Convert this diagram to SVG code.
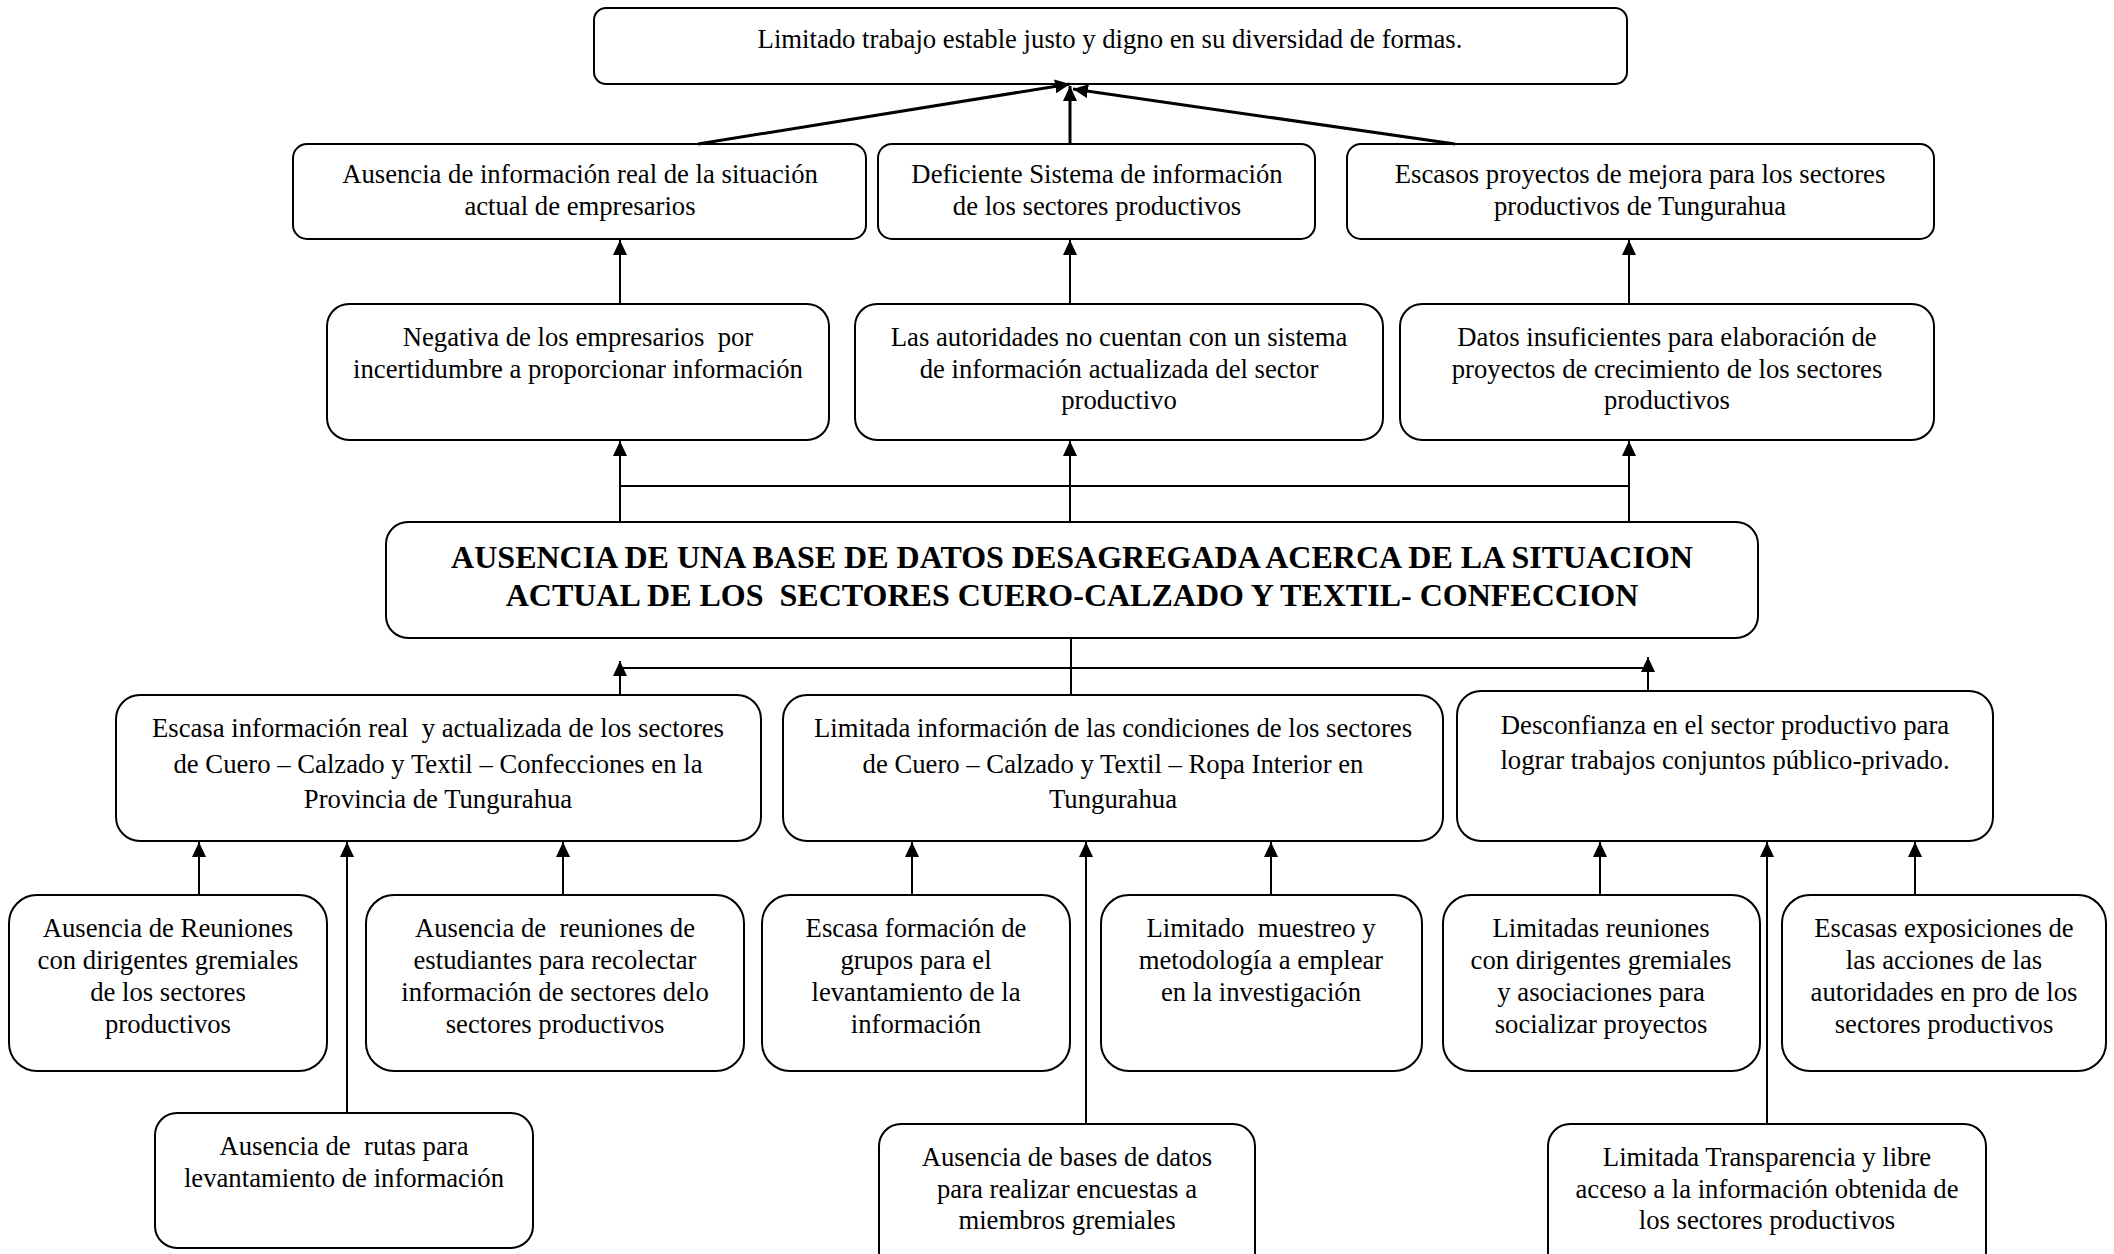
<svg xmlns="http://www.w3.org/2000/svg" width="2114" height="1254" viewBox="0 0 2114 1254">
<defs>
<style>
.box{fill:#fff;stroke:#000;stroke-width:2}
.t{font-family:"Liberation Serif","Times New Roman",serif;font-size:26.7px;fill:#000;text-anchor:middle;white-space:pre}
.b{font-family:"Liberation Serif","Times New Roman",serif;font-size:32px;font-weight:bold;fill:#000;text-anchor:middle;white-space:pre}
.ln{stroke:#000;stroke-width:2;fill:none}
.ar{stroke:#000;stroke-width:2;fill:none;marker-end:url(#ah)}
.ard{stroke:#000;stroke-width:3;fill:none;marker-end:url(#ah)}
</style>
<marker id="ah" viewBox="0 0 15 14" refX="15" refY="7" markerWidth="15" markerHeight="14" markerUnits="userSpaceOnUse" orient="auto">
<path d="M0,0 L15,7 L0,14 z" fill="#000"/>
</marker>
</defs>
<rect width="2114" height="1254" fill="#fff"/>

<g id="n-top"><rect class="box" x="594" y="8" width="1033" height="76" rx="12"/>
<text class="t" x="1110" y="48">Limitado trabajo estable justo y digno en su diversidad de formas.</text></g>

<g id="n-e1"><rect class="box" x="293" y="144" width="573" height="95" rx="14"/>
<text class="t" x="580" y="183">Ausencia de información real de la situación</text>
<text class="t" x="580" y="215">actual de empresarios</text></g>

<g id="n-e2"><rect class="box" x="878" y="144" width="437" height="95" rx="14"/>
<text class="t" x="1097" y="183">Deficiente Sistema de información</text>
<text class="t" x="1097" y="215">de los sectores productivos</text></g>

<g id="n-e3"><rect class="box" x="1347" y="144" width="587" height="95" rx="14"/>
<text class="t" x="1640" y="183">Escasos proyectos de mejora para los sectores</text>
<text class="t" x="1640" y="215">productivos de Tungurahua</text></g>

<g id="n-d1"><rect class="box" x="327" y="304" width="502" height="136" rx="22"/>
<text class="t" x="578" y="346">Negativa de los empresarios  por</text>
<text class="t" x="578" y="378">incertidumbre a proporcionar información</text></g>

<g id="n-d2"><rect class="box" x="855" y="304" width="528" height="136" rx="22"/>
<text class="t" x="1119" y="346">Las autoridades no cuentan con un sistema</text>
<text class="t" x="1119" y="378">de información actualizada del sector</text>
<text class="t" x="1119" y="409">productivo</text></g>

<g id="n-d3"><rect class="box" x="1400" y="304" width="534" height="136" rx="22"/>
<text class="t" x="1667" y="346">Datos insuficientes para elaboración de</text>
<text class="t" x="1667" y="378">proyectos de crecimiento de los sectores</text>
<text class="t" x="1667" y="409">productivos</text></g>

<g id="n-central"><rect class="box" x="386" y="522" width="1372" height="116" rx="22"/>
<text class="b" x="1072" y="568">AUSENCIA DE UNA BASE DE DATOS DESAGREGADA ACERCA DE LA SITUACION</text>
<text class="b" x="1072" y="606">ACTUAL DE LOS  SECTORES CUERO-CALZADO Y TEXTIL- CONFECCION</text></g>

<g id="n-c1"><rect class="box" x="116" y="695" width="645" height="146" rx="24"/>
<text class="t" x="438" y="737">Escasa información real  y actualizada de los sectores</text>
<text class="t" x="438" y="773">de Cuero – Calzado y Textil – Confecciones en la</text>
<text class="t" x="438" y="808">Provincia de Tungurahua</text></g>

<g id="n-c2"><rect class="box" x="783" y="695" width="660" height="146" rx="24"/>
<text class="t" x="1113" y="737">Limitada información de las condiciones de los sectores</text>
<text class="t" x="1113" y="773">de Cuero – Calzado y Textil – Ropa Interior en</text>
<text class="t" x="1113" y="808">Tungurahua</text></g>

<g id="n-c3"><rect class="box" x="1457" y="691" width="536" height="150" rx="24"/>
<text class="t" x="1725" y="734">Desconfianza en el sector productivo para</text>
<text class="t" x="1725" y="769">lograr trabajos conjuntos público-privado.</text></g>

<g id="n-s1"><rect class="box" x="9" y="895" width="318" height="176" rx="28"/>
<text class="t" x="168" y="937">Ausencia de Reuniones</text>
<text class="t" x="168" y="969">con dirigentes gremiales</text>
<text class="t" x="168" y="1001">de los sectores</text>
<text class="t" x="168" y="1033">productivos</text></g>

<g id="n-s2"><rect class="box" x="366" y="895" width="378" height="176" rx="28"/>
<text class="t" x="555" y="937">Ausencia de  reuniones de</text>
<text class="t" x="555" y="969">estudiantes para recolectar</text>
<text class="t" x="555" y="1001">información de sectores delo</text>
<text class="t" x="555" y="1033">sectores productivos</text></g>

<g id="n-s3"><rect class="box" x="762" y="895" width="308" height="176" rx="28"/>
<text class="t" x="916" y="937">Escasa formación de</text>
<text class="t" x="916" y="969">grupos para el</text>
<text class="t" x="916" y="1001">levantamiento de la</text>
<text class="t" x="916" y="1033">información</text></g>

<g id="n-s4"><rect class="box" x="1101" y="895" width="321" height="176" rx="28"/>
<text class="t" x="1261" y="937">Limitado  muestreo y</text>
<text class="t" x="1261" y="969">metodología a emplear</text>
<text class="t" x="1261" y="1001">en la investigación</text></g>

<g id="n-s5"><rect class="box" x="1443" y="895" width="317" height="176" rx="28"/>
<text class="t" x="1601" y="937">Limitadas reuniones</text>
<text class="t" x="1601" y="969">con dirigentes gremiales</text>
<text class="t" x="1601" y="1001">y asociaciones para</text>
<text class="t" x="1601" y="1033">socializar proyectos</text></g>

<g id="n-s6"><rect class="box" x="1782" y="895" width="324" height="176" rx="28"/>
<text class="t" x="1944" y="937">Escasas exposiciones de</text>
<text class="t" x="1944" y="969">las acciones de las</text>
<text class="t" x="1944" y="1001">autoridades en pro de los</text>
<text class="t" x="1944" y="1033">sectores productivos</text></g>

<g id="n-r1"><rect class="box" x="155" y="1113" width="378" height="135" rx="22"/>
<text class="t" x="344" y="1155">Ausencia de  rutas para</text>
<text class="t" x="344" y="1187">levantamiento de información</text></g>

<g id="n-r2"><rect class="box" x="879" y="1124" width="376" height="150" rx="22"/>
<text class="t" x="1067" y="1166">Ausencia de bases de datos</text>
<text class="t" x="1067" y="1198">para realizar encuestas a</text>
<text class="t" x="1067" y="1229">miembros gremiales</text></g>

<g id="n-r3"><rect class="box" x="1548" y="1124" width="438" height="150" rx="22"/>
<text class="t" x="1767" y="1166">Limitada Transparencia y libre</text>
<text class="t" x="1767" y="1198">acceso a la información obtenida de</text>
<text class="t" x="1767" y="1229">los sectores productivos</text></g>

<g id="connectors">
<line class="ard" x1="698" y1="144" x2="1070" y2="84"/>
<line class="ard" x1="1070" y1="144" x2="1070" y2="86"/>
<line class="ard" x1="1455" y1="144" x2="1073" y2="89"/>
<line class="ar" x1="620" y1="304" x2="620" y2="240"/>
<line class="ar" x1="1070" y1="304" x2="1070" y2="240"/>
<line class="ar" x1="1629" y1="304" x2="1629" y2="240"/>
<line class="ar" x1="620" y1="522" x2="620" y2="441"/>
<line class="ar" x1="1070" y1="522" x2="1070" y2="441"/>
<line class="ar" x1="1629" y1="522" x2="1629" y2="441"/>
<line class="ln" x1="620" y1="486" x2="1629" y2="486"/>
<line class="ln" x1="1071" y1="638" x2="1071" y2="694"/>
<line class="ln" x1="620" y1="668" x2="1648" y2="668"/>
<line class="ar" x1="620" y1="695" x2="620" y2="661"/>
<line class="ar" x1="1648" y1="691" x2="1648" y2="657"/>
<line class="ar" x1="199" y1="895" x2="199" y2="842"/>
<line class="ar" x1="347" y1="1113" x2="347" y2="842"/>
<line class="ar" x1="563" y1="895" x2="563" y2="842"/>
<line class="ar" x1="912" y1="895" x2="912" y2="842"/>
<line class="ar" x1="1086" y1="1124" x2="1086" y2="842"/>
<line class="ar" x1="1271" y1="895" x2="1271" y2="842"/>
<line class="ar" x1="1600" y1="895" x2="1600" y2="842"/>
<line class="ar" x1="1767" y1="1124" x2="1767" y2="842"/>
<line class="ar" x1="1915" y1="895" x2="1915" y2="842"/>
</g>
</svg>
